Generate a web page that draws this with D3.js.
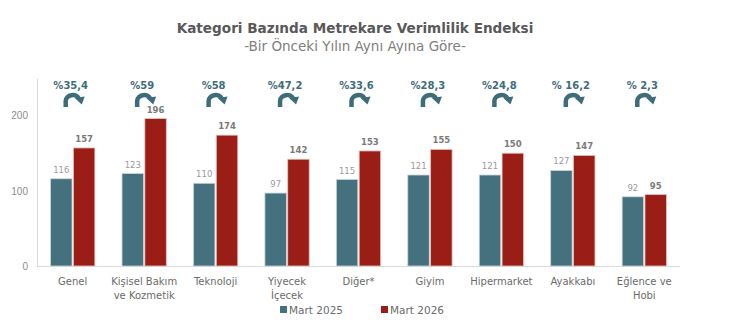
<!DOCTYPE html>
<html>
<head>
<meta charset="utf-8">
<script src="https://cdn.jsdelivr.net/npm/d3@7"></script>
<style>
  body { margin: 0; background: #fff; }
  svg { font-family: "DejaVu Sans", Verdana, sans-serif; }
</style>
</head>
<body>
<svg id="chart" width="750" height="332"></svg>
<script>
// chart data
var categories = ['Genel', 'Kişisel Bakım\nve Kozmetik', 'Teknoloji', 'Yiyecek\nİçecek', 'Diğer*',
  'Giyim', 'Hipermarket', 'Ayakkabı', 'Eğlence ve\nHobi'];
var series = ['Mart 2025', 'Mart 2026'];
var values2025 = [116, 123, 110, 97, 115, 121, 121, 127, 92];
var values2026 = [157, 196, 174, 142, 153, 155, 150, 147, 95];
var changes = ['%35,4', '%59', '%58', '%47,2', '%33,6', '%28,3', '%24,8', '% 16,2', '% 2,3'];
var yTicks = [0, 100, 200];

var colors = ['#44717d', '#9b1e16'];

var svg = d3.select('#chart');

var x0 = d3.scaleBand()
  .domain(d3.range(categories.length))
  .range([37, 680])
  .paddingInner(0.38)
  .paddingOuter(0.19);

var x1 = d3.scaleBand()
  .domain([0, 1])
  .range([0, x0.bandwidth()])
  .paddingInner(0.06);

var y = d3.scaleLinear().domain([0, 250]).range([266, 78]);

// title
svg.append('text')
  .attr('x', 355).attr('y', 33)
  .attr('text-anchor', 'middle')
  .attr('font-size', 13.6).attr('font-weight', 'bold')
  .attr('fill', '#595959')
  .text('Kategori Bazında Metrekare Verimlilik Endeksi');
svg.append('text')
  .attr('x', 355).attr('y', 51)
  .attr('text-anchor', 'middle')
  .attr('font-size', 13.5)
  .attr('fill', '#808080')
  .text('-Bir Önceki Yılın Aynı Ayına Göre-');

// axes
var yAxis = d3.axisLeft(y).tickValues(yTicks).tickSize(0).tickPadding(9);
var gy = svg.append('g').attr('transform', 'translate(37,0)').call(yAxis);
gy.select('.domain').attr('stroke', '#d9d9d9');
gy.selectAll('text').attr('font-size', 10).attr('fill', '#8c8c8c').attr('font-family', null);

svg.append('line')
  .attr('x1', 37).attr('x2', 680)
  .attr('y1', y(0) + 0.5).attr('y2', y(0) + 0.5)
  .attr('stroke', '#d9d9d9');

// bars
var groups = svg.selectAll('.group')
  .data(categories)
  .enter().append('g')
  .attr('transform', function(d, i) { return 'translate(' + x0(i) + ',0)'; });

var data = [values2025, values2026];
groups.each(function(d, i) {
  var g = d3.select(this);
  for (var s = 0; s < 2; s++) {
    var v = data[s][i];
    g.append('rect')
      .attr('x', x1(s))
      .attr('y', y(v))
      .attr('width', x1.bandwidth())
      .attr('height', y(0) - y(v))
      .attr('fill', colors[s])
      .attr('stroke', s == 0 ? '#c9d7db' : '#e6c3bf')
      .attr('stroke-width', 0.8);
    g.append('text')
      .attr('x', x1(s) + x1.bandwidth() / 2)
      .attr('y', y(v) - 6)
      .attr('text-anchor', 'middle')
      .attr('font-size', 8.5)
      .attr('font-weight', s == 0 ? 'normal' : 'bold')
      .attr('fill', s == 0 ? '#9a9a9a' : '#7a7a7a')
      .text(v);
  }
});

// category labels
groups.each(function(d, i) {
  var lines = d.split('\n');
  var t = d3.select(this).append('text')
    .attr('text-anchor', 'middle')
    .attr('font-size', 10)
    .attr('fill', '#6b6b6b');
  lines.forEach(function(line, k) {
    t.append('tspan')
      .attr('x', x0.bandwidth() / 2)
      .attr('y', 285 + k * 13.5)
      .text(line);
  });
});

// change labels and curved arrows
groups.each(function(d, i) {
  var g = d3.select(this);
  var cx = x0.bandwidth() / 2;
  g.append('text')
    .attr('x', cx - 2)
    .attr('y', 89)
    .attr('text-anchor', 'middle')
    .attr('font-size', 10)
    .attr('font-weight', 'bold')
    .attr('fill', '#3e6d7a')
    .text(changes[i]);
  var ax = cx + 1;
  g.append('path')
    .attr('d', 'M' + (ax - 8) + ',107 L' + (ax - 8) + ',101 C' + (ax - 8) + ',94.5 ' + (ax + 3) + ',93 ' + (ax + 5) + ',98.5')
    .attr('fill', 'none')
    .attr('stroke', '#3e6d7a')
    .attr('stroke-width', 4.5);
  g.append('path')
    .attr('d', 'M' + (ax + 1) + ',98 L' + (ax + 11) + ',96.5 L' + (ax + 8) + ',104.5 Z')
    .attr('fill', '#3e6d7a');
});

// legend
var legend = svg.append('g');
var legendX = [280, 381];
series.forEach(function(name, s) {
  legend.append('rect')
    .attr('x', legendX[s]).attr('y', 306)
    .attr('width', 7).attr('height', 7)
    .attr('fill', colors[s]);
  legend.append('text')
    .attr('x', legendX[s] + 9).attr('y', 314)
    .attr('font-size', 10.5)
    .attr('fill', '#6b6b6b')
    .text(name);
});
</script>
</body>
</html>
